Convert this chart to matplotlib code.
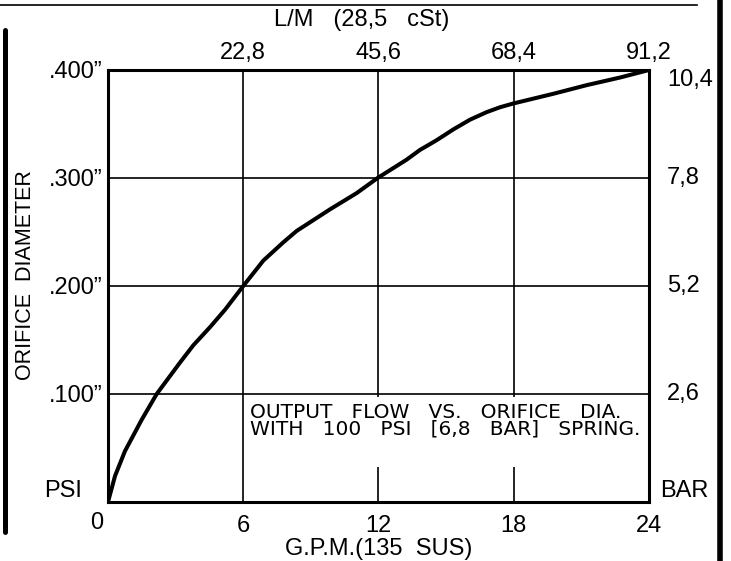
import matplotlib.pyplot as plt
from matplotlib.patches import Rectangle
from matplotlib.lines import Line2D
import matplotlib.transforms as mtransforms

# Curve: output flow (GPM) vs orifice diameter (in)
gpm = [0, 0.31, 0.75, 1.49, 2.16, 3.19, 3.78, 4.53, 5.19, 6.0, 6.89, 7.78, 8.37,
       9.85, 11.03, 11.96, 13.25, 13.84, 14.58, 15.32, 16.06, 16.8, 17.39, 17.98,
       19.76, 21.24, 22.71, 24]
dia = [0, 0.024, 0.047, 0.076, 0.100, 0.129, 0.145, 0.162, 0.178, 0.200, 0.2235,
       0.2405, 0.251, 0.271, 0.286, 0.300, 0.317, 0.326, 0.335, 0.345, 0.354,
       0.361, 0.3655, 0.369, 0.378, 0.386, 0.393, 0.400]

gpm_ticks = [6, 12, 18, 24]
lpm_labels = ["22,8", "45,6", "68,4", "91,2"]
dia_ticks = [0.1, 0.2, 0.3, 0.4]
dia_labels = ['.100\u201d', '.200\u201d', '.300\u201d', '.400\u201d']
bar_labels = ["2,6", "5,2", "7,8", "10,4"]
note = "OUTPUT   FLOW   VS.   ORIFICE   DIA.\nWITH   100   PSI   [6,8   BAR]   SPRING."

plt.rcParams['font.family'] = ['Liberation Sans', 'DejaVu Sans']
fs = 17

fig = plt.figure(figsize=(7.31, 5.61), dpi=100)
ax = fig.add_axes([108 / 731, 1 - 502 / 561, 541 / 731, 432 / 561])
ax.set_xlim(0, 24)
ax.set_ylim(0, 0.4)

# grid
for x in gpm_ticks[:-1]:
    ax.axvline(x, color='black', lw=1.2, zorder=1)
for y in dia_ticks[:-1]:
    ax.axhline(y, color='black', lw=1.2, zorder=1)

# white area behind the note (grid lines are broken there)
ax.add_patch(Rectangle((6.3, 0.032), 17.6, 0.065, facecolor='white',
                       edgecolor='none', zorder=2))
ax.text(6.3, 0.0915, note, family='DejaVu Sans', fontsize=14.5, va='top', ha='left',
        linespacing=0.84, zorder=3)

ax.plot(gpm, dia, color='black', lw=2.9, solid_capstyle='round',
        solid_joinstyle='round', zorder=4)

for s in ax.spines.values():
    s.set_linewidth(2.2)
    s.set_zorder(5)

# bottom axis
ax.set_xticks(gpm_ticks, labels=[str(v) for v in gpm_ticks])
ax.tick_params(axis='x', length=0, pad=9, labelsize=fs)
ax.text(-0.5, -0.009, "0", fontsize=fs, ha='center', va='top')
ax.set_xlabel("G.P.M.(135  SUS)", fontsize=fs, labelpad=1)

# left axis
ax.set_yticks(dia_ticks, labels=dia_labels)
ax.tick_params(axis='y', length=0, pad=4, labelsize=fs)
ax.text(-0.153, 0.525, "ORIFICE  DIAMETER", transform=ax.transAxes, fontsize=15.5,
        rotation=90, ha='center', va='center')
ax.text(-0.048, 0.0, "PSI", transform=ax.transAxes, fontsize=fs,
        ha='right', va='bottom')

# top axis (L/M)
top = ax.secondary_xaxis('top')
top.set_xticks(gpm_ticks, labels=lpm_labels)
top.tick_params(length=0, pad=4, labelsize=fs)
ax.text(0.4695, 1.1157, "L/M   (28,5   cSt)", transform=ax.transAxes, fontsize=fs,
        ha='center', va='center')

# right axis (BAR)
tr = mtransforms.blended_transform_factory(ax.transAxes, ax.transData)
for y, lab in zip(dia_ticks, bar_labels):
    dy = -0.009 if y == 0.4 else 0.0
    ax.text(1.033, y + dy, lab, transform=tr, fontsize=fs, ha='left', va='center')
ax.text(1.02, 0.0, "BAR", transform=ax.transAxes, fontsize=fs,
        ha='left', va='bottom')

# drawing frame lines
fig.add_artist(Line2D([0, 697 / 731], [1 - 5 / 561] * 2, color='black', lw=1.2))
fig.add_artist(Line2D([5 / 731] * 2, [1 - 30 / 561, 1 - 532 / 561], color='black',
                      lw=3.6, solid_capstyle='round'))
fig.add_artist(Line2D([720 / 731] * 2, [0, 1], color='black', lw=4))

fig.savefig("out.png", dpi=100)
